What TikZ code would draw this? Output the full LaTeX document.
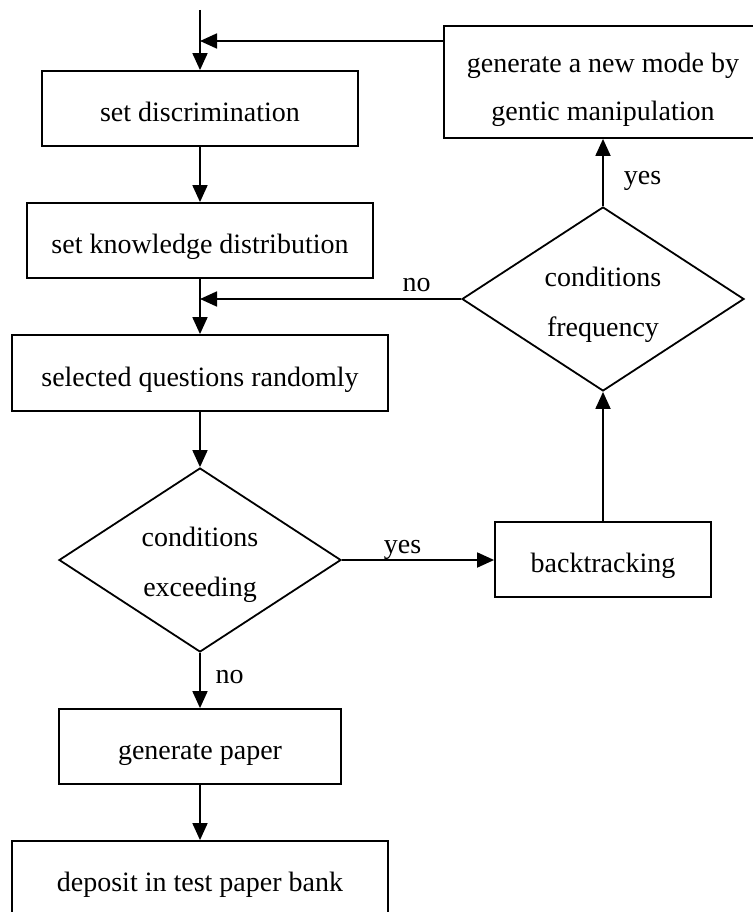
\documentclass[tikz,border=0pt]{standalone}
\usepackage{fontspec}
\setmainfont{Liberation Serif}
\usetikzlibrary{arrows.meta,shapes.geometric}
\begin{document}
\begin{tikzpicture}[x=1pt,y=-1pt,
  line width=1.8pt,
  txt/.style={font=\fontsize{28pt}{34pt}\selectfont},
  procbox/.style={draw, rectangle, minimum height=75pt, inner sep=0pt, txt,
    text height=26pt, text depth=0pt},
  tallbox/.style={draw, rectangle, inner sep=0pt},
  decision/.style={draw, diamond, minimum width=282pt, minimum height=184pt, inner sep=0pt},
  twoline/.style={align=center, inner sep=0pt},
  flow/.style={-{Triangle[length=17pt,width=15pt]}},
  edgelabel/.style={txt, anchor=base, inner sep=0pt},
]
\useasboundingbox (0,0) rectangle (752,912);

% main column
\node[procbox, minimum width=316pt] (disc) at (200,108.5) {set discrimination};
\node[procbox, minimum width=346pt] (know) at (200,240.5) {set knowledge distribution};
\node[procbox, minimum width=376pt, minimum height=76pt] (sel) at (200,373) {selected questions randomly};
\node[decision,
  label={[twoline, font=\fontsize{28pt}{50pt}\selectfont, yshift=-5pt]center:{conditions\\exceeding}}]
  (exc) at (200,560) {};
\node[procbox, minimum width=282pt] (gen) at (200,746.5) {generate paper};
\node[procbox, minimum width=376pt] (dep) at (200,878.5) {deposit in test paper bank};

% right column
\node[procbox, minimum width=216pt] (back) at (603,559.5) {backtracking};
\node[decision,
  label={[twoline, font=\fontsize{28pt}{50pt}\selectfont, yshift=-5.5pt]center:{conditions\\frequency}}]
  (freq) at (603,299) {};
\node[tallbox, minimum width=318pt, minimum height=112pt,
  label={[twoline, font=\fontsize{28pt}{48pt}\selectfont, yshift=-7.7pt]center:{generate a new mode by\\gentic manipulation}}]
  (newmode) at (603,82) {};

% connectors
\coordinate (entry) at (200,10);
\coordinate (merge) at (200,41);
\draw[flow] (entry) -- (disc.north);
\draw[flow] (newmode.west |- merge) -- (merge);
\draw[flow] (disc.south) -- (know.north);
\draw[flow] (know.south) -- (sel.north);
\draw[flow] (freq.west) -- (freq.west -| sel.north);
\draw[flow] (sel.south) -- (exc.north);
\draw[flow] (exc.east) -- (exc.east -| back.west);
\draw[flow] (back.north) -- (freq.south);
\draw[flow] (freq.north) -- (newmode.south);
\draw[flow] (exc.south) -- (gen.north);
\draw[flow] (gen.south) -- (dep.north);

% branch labels
\node[edgelabel] (yestop) at (642.5,185) {yes};
\node[edgelabel] (notop) at (416.5,291.7) {no};
\node[edgelabel] (yesmid) at (402.5,553) {yes};
\node[edgelabel] (nobottom) at (229.5,683) {no};
\end{tikzpicture}
\end{document}
